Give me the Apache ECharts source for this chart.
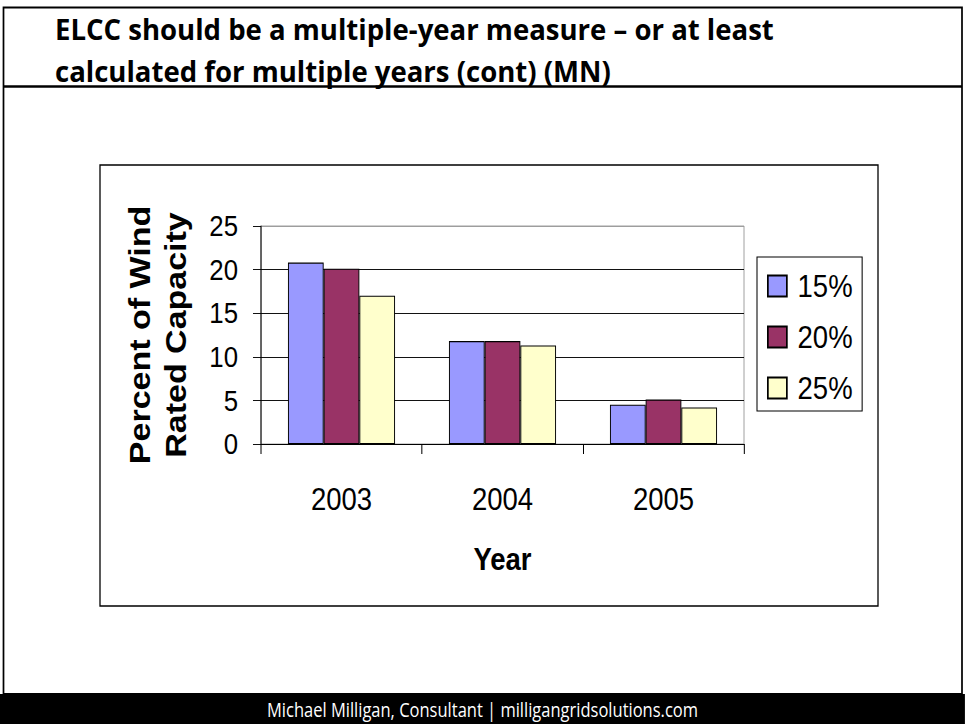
<!DOCTYPE html>
<html>
<head>
<meta charset="utf-8">
<script src="https://cdn.jsdelivr.net/npm/echarts@6/dist/echarts.min.js"></script>
<style>
html,body{margin:0;padding:0;background:#fff;overflow:hidden;}
#wrap{width:965px;height:724px;overflow:hidden;position:relative;}
#chart{width:1122px;height:724px;transform:scaleX(0.86);transform-origin:0 0;}
</style>
</head>
<body>
<div id="wrap"><div id="chart"></div></div>
<script>
const categories = ['2003', '2004', '2005'];
const seriesNames = ['15%', '20%', '25%'];
const values15 = [20.8, 11.8, 4.5];
const values20 = [20.1, 11.8, 5.1];
const values25 = [17.0, 11.3, 4.2];
const yTicks = [0, 5, 10, 15, 20, 25];
const titleLines = ['ELCC should be a multiple-year measure \u2013 or at least', 'calculated for multiple years (cont) (MN)'];
const footerText = 'Michael Milligan, Consultant | milligangridsolutions.com';
const yAxisTitle = 'Percent of Wind\nRated Capacity';
const xAxisTitle = 'Year';

// The slide is drawn on a wider canvas and squeezed horizontally (as in the reference)
const SX = 0.86;
const px = v => v / SX;

const SANS = "'Liberation Sans', Arial, sans-serif";
const TITLEF = "'Open Sans', 'Noto Sans', sans-serif";
const colors = ['#9999FF', '#993366', '#FFFFCC'];
const allValues = [values15, values20, values25];

const chart = echarts.init(document.getElementById('chart'), null, { renderer: 'svg' });
const W = 1122;
const option = {
  animation: false,
  backgroundColor: '#fff',
  graphic: [
    { type: 'rect', shape: { x: px(3.5), y: 7.5, width: px(962) - px(3.5), height: 686.5 }, style: { fill: 'none', stroke: '#000', lineWidth: 2 }, z: 0 },
    { type: 'line', shape: { x1: px(3.5), y1: 86.5, x2: px(962), y2: 86.5 }, style: { stroke: '#000', lineWidth: 2.5 }, z: 0 },
    { type: 'rect', shape: { x: px(100), y: 165, width: px(878) - px(100), height: 441 }, style: { fill: 'none', stroke: '#000', lineWidth: 1.5 }, z: 0 },
    { type: 'rect', shape: { x: 0, y: 694, width: W, height: 30 }, style: { fill: '#000' }, z: 0 },
    { type: 'text', x: px(55), y: 28.5, scaleX: 1.105, style: { text: titleLines[0], font: "bold 29px " + TITLEF, fill: '#000', verticalAlign: 'middle' }, z: 5 },
    { type: 'text', x: px(55), y: 70.5, scaleX: 1.105, style: { text: titleLines[1], font: "bold 29px " + TITLEF, fill: '#000', verticalAlign: 'middle' }, z: 5 },
    { type: 'text', x: px(482.5), y: 709, style: { text: footerText, font: "19.2px " + TITLEF, fill: '#fff', align: 'center', verticalAlign: 'middle' }, z: 5 }
  ],
  grid: { left: px(261), right: W - px(744), top: 226, bottom: 280, show: true, borderColor: '#999', borderWidth: 1, backgroundColor: 'transparent' },
  legend: {
    orient: 'vertical', left: px(757), top: 257,
    data: seriesNames,
    icon: 'rect', itemWidth: px(19), itemHeight: 21, itemGap: 19,
    padding: [13, px(9.5), 7, px(10)],
    borderColor: '#000', borderWidth: 1.2, backgroundColor: '#fff',
    textStyle: { fontFamily: SANS, fontSize: 32, color: '#000', padding: [0, 0, 0, px(10.7) - 5] }
  },
  xAxis: {
    type: 'category', data: categories,
    axisLine: { lineStyle: { color: '#000', width: 1 } },
    axisTick: { show: true, length: 10, lineStyle: { color: '#000', width: 1.2 } },
    axisLabel: { fontFamily: SANS, fontSize: 32, color: '#000', margin: 39 },
    name: xAxisTitle, nameLocation: 'middle', nameGap: 99,
    nameTextStyle: { fontFamily: SANS, fontSize: 32, fontWeight: 'bold', color: '#000' }
  },
  yAxis: {
    type: 'value', min: yTicks[0], max: yTicks[yTicks.length - 1], interval: yTicks[1] - yTicks[0],
    axisLine: { show: true, lineStyle: { color: '#000', width: 1.2 } },
    axisTick: { show: true, length: px(8), lineStyle: { color: '#000' } },
    axisLabel: { fontFamily: SANS, fontSize: 30, color: '#000', margin: px(23) },
    splitLine: { show: true, lineStyle: { color: ['#000', '#000', '#000', '#000', '#000', '#999'], width: 1 } },
    name: yAxisTitle, nameLocation: 'middle', nameGap: px(67), nameRotate: 90,
    nameTextStyle: { fontFamily: SANS, fontSize: 34, fontWeight: 'bold', color: '#000', lineHeight: px(36) }
  },
  series: seriesNames.map((n, i) => ({
    name: n, type: 'bar', data: allValues[i],
    barGap: '0%', barCategoryGap: '33.5%',
    itemStyle: { color: colors[i], borderColor: '#000', borderWidth: 1.1 }
  }))
};
chart.setOption(option);
</script>
</body>
</html>
